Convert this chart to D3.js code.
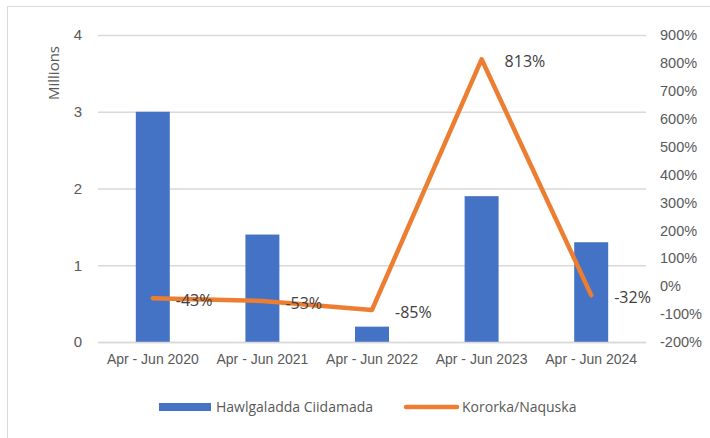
<!DOCTYPE html>
<html><head><meta charset="utf-8">
<script src="https://cdn.jsdelivr.net/npm/d3@7/dist/d3.min.js"></script>
<style>body{margin:0;background:#fff;} svg{display:block;font-family:"Open Sans",sans-serif;}</style>
</head><body>
<svg id="c" width="710" height="438"></svg>
<script>
const categories = ["Apr - Jun 2020","Apr - Jun 2021","Apr - Jun 2022","Apr - Jun 2023","Apr - Jun 2024"];
const barValues = [3.0, 1.4, 0.2, 1.9, 1.3];
const lineValues = [-43, -53, -85, 813, -32];
const lineLabels = ["-43%","-53%","-85%","813%","-32%"];
const leftTicks = [0,1,2,3,4];
const rightTicks = [-200,-100,0,100,200,300,400,500,600,700,800,900];
const seriesNames = ["Hawlgaladda Ciidamada","Kororka/Naquska"];

const svg = d3.select("#c");
const textCol = "#595959";
const m = {l:98, r:646, t:35, b:342};

svg.append("rect").attr("x",7.5).attr("y",6.5).attr("width",720).attr("height",450)
  .attr("fill","none").attr("stroke","#d9d9d9").attr("stroke-width",1);

const x = d3.scaleBand().domain(categories).range([m.l,m.r]).paddingInner(0.69).paddingOuter(0.345);
const yL = d3.scaleLinear().domain([0,4]).range([m.b,m.t]);
const yR = d3.scaleLinear().domain([-200,900]).range([m.b,m.t]);

// gridlines
const gL = svg.append("g").attr("transform",`translate(${m.l},0)`)
  .call(d3.axisLeft(yL).tickValues(leftTicks).tickSize(-(m.r-m.l)).tickFormat(d=>d).tickPadding(16));
gL.select(".domain").remove();
gL.selectAll("line").attr("stroke","#d9d9d9").attr("stroke-width",1.5);
gL.selectAll("text").attr("fill",textCol).style("font-size","15px");

const gR = svg.append("g").attr("transform",`translate(${m.r},0)`)
  .call(d3.axisRight(yR).tickValues(rightTicks).tickSize(0).tickPadding(14).tickFormat(d=>d+"%"));
gR.select(".domain").remove();
gR.selectAll("text").attr("fill",textCol).style("font-size","14.5px");

// bars
svg.append("g").selectAll("rect").data(barValues).join("rect")
  .attr("x",(d,i)=>x(categories[i])).attr("width",x.bandwidth())
  .attr("y",d=>yL(d)).attr("height",d=>yL(0)-yL(d)).attr("fill","#4472C4");

// x axis
const gX = svg.append("g").attr("transform",`translate(0,${m.b})`)
  .call(d3.axisBottom(x).tickSize(0).tickPadding(12));
gX.select(".domain").attr("stroke","#d9d9d9").attr("stroke-width",1.5);
gX.selectAll("text").attr("fill",textCol).style("font-size","14px");

// line
const cx = i => x(categories[i]) + x.bandwidth()/2;
const line = d3.line().x((d,i)=>cx(i)).y(d=>yR(d));
svg.append("path").datum(lineValues).attr("d",line).attr("fill","none")
  .attr("stroke","#ED7D31").attr("stroke-width",4.5).attr("stroke-linecap","round").attr("stroke-linejoin","round");

svg.append("g").selectAll("text").data(lineValues).join("text")
  .attr("x",(d,i)=>cx(i)+23).attr("y",d=>yR(d)+2).attr("dy","0.35em")
  .attr("fill","#404040").style("font-size","16px").text((d,i)=>lineLabels[i]);

// y title
svg.append("text").attr("transform","translate(59,73) rotate(-90)").attr("text-anchor","middle")
  .attr("fill",textCol).style("font-size","15px").text("Millions");

// legend
const lg = svg.append("g");
lg.append("rect").attr("x",159).attr("y",403).attr("width",52).attr("height",8).attr("fill","#4472C4");
lg.append("text").attr("x",216).attr("y",407).attr("dy","0.35em").attr("fill",textCol).style("font-size","14px").text(seriesNames[0]);
lg.append("line").attr("x1",406).attr("x2",457).attr("y1",407).attr("y2",407).attr("stroke","#ED7D31").attr("stroke-width",4.5).attr("stroke-linecap","round");
lg.append("text").attr("x",462).attr("y",407).attr("dy","0.35em").attr("fill",textCol).style("font-size","14px").text(seriesNames[1]);
</script>
</body></html>
